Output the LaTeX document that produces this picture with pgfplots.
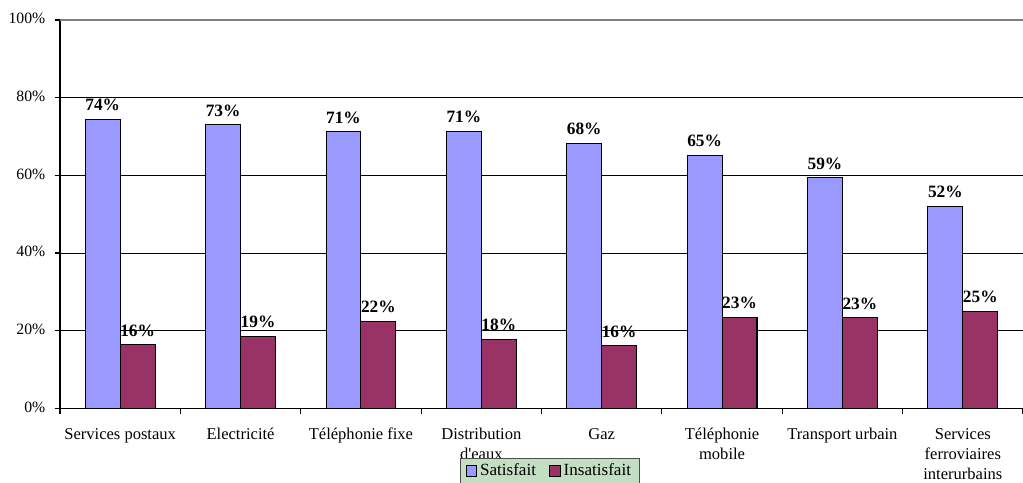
\documentclass[border=0pt]{standalone}
\usepackage{pgfplots}
\usepackage{pgfplotstable}
\pgfplotsset{compat=1.18}
\usepackage{fontspec}
\setmainfont{Liberation Serif}

\definecolor{satis}{RGB}{153,153,255}
\definecolor{insatis}{RGB}{153,51,102}
\definecolor{legfill}{RGB}{195,223,195}

% share of users satisfied / dissatisfied per public service
\pgfplotstableread{
x sat ins
0 74.4 16.4
1 73.0 18.6
2 71.2 22.4
3 71.3 17.8
4 68.2 16.1
5 65.2 23.4
6 59.4 23.3
7 52.0 25.0
}\services

\begin{document}
\begin{tikzpicture}
\begin{axis}[
  name=ax,
  scale only axis,
  width=722.25pt, height=291.2pt,
  ybar=0pt, bar width=0.29,
  xmin=-0.5, xmax=7.5, ymin=0, ymax=100,
  axis x line*=bottom, axis y line*=left,
  axis line style={black, line width=0.8pt},
  xtick={-0.5,0.5,...,7.5},
  x tick label as interval,
  xticklabels={Services postaux, Electricité, Téléphonie fixe, Distribution\\d\textquotesingle eaux, Gaz, Téléphonie\\mobile, Transport urbain, Services\\ferroviaires\\interurbains},
  x tick label style={align=center, font=\rmfamily\fontsize{12.4}{15}\selectfont, yshift=-5.5pt},
  typeset ticklabels with strut,
  ytick={0,20,...,80},
  yticklabels={0\%,20\%,40\%,60\%,80\%},
  extra y ticks={100},
  extra y tick labels={100\%},
  extra y tick style={major grid style={black!50, line width=0.8pt}},
  y tick label style={font=\rmfamily\fontsize{11.8}{14}\selectfont, xshift=-3.5pt},
  ymajorgrids,
  major grid style={black, line width=0.6pt},
  tick align=outside,
  major tick length=4pt,
  tick style={black, line width=0.8pt},
  nodes near coords={\pgfmathprintnumber[fixed,precision=0]{\pgfplotspointmeta}\%},
  nodes near coords style={font=\rmfamily\bfseries\fontsize{13}{15}\selectfont, /pgf/number format/assume math mode=true, yshift=2.5pt, black},
  legend columns=2,
  legend style={at={(0.5085,-0.128)}, anchor=north, fill=legfill, draw=black!70,
    line width=0.8pt, font=\rmfamily\fontsize{12.8}{15}\selectfont,
    inner xsep=4pt, inner ysep=2pt,
    /tikz/every even column/.append style={column sep=8pt}},
  legend image code/.code={\draw[#1, line width=0.8pt] (0pt,-4pt) rectangle (8pt,4pt);},
]
\addplot[fill=satis, draw=black, line width=0.8pt] table[x=x, y=sat] {\services};
\addplot[fill=insatis, draw=black, line width=0.8pt] table[x=x, y=ins] {\services};
\legend{Satisfait, Insatisfait}
\end{axis}
\pgfresetboundingbox
\useasboundingbox ([xshift=-45pt,yshift=-56pt]ax.south west) rectangle ([yshift=15pt]ax.north east);
\end{tikzpicture}
\end{document}
